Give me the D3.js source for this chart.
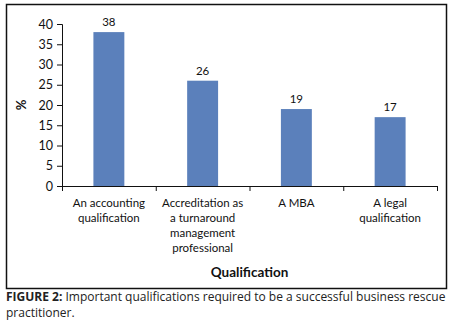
<!DOCTYPE html>
<html lang="en">
<head>
    <meta charset="UTF-8">
    <title>Qualifications</title>
    <script src="https://d3js.org/d3.v7.min.js"></script>
    <style>
        html, body {
            margin: 0;
            padding: 0;
            background: #fff;
        }
        svg {
            display: block;
            font-family: Lato, "Open Sans", sans-serif;
        }
    </style>
</head>
<body>
    <svg id="chart"></svg>

    <script>
        const categories = [
            ["An accounting", "qualification"],
            ["Accreditation as", "a turnaround", "management", "professional"],
            ["A MBA"],
            ["A legal", "qualification"]
        ];
        const values = [38, 26, 19, 17];
        const yTicks = [0, 5, 10, 15, 20, 25, 30, 35, 40];

        const width = 455, height = 329;
        const svg = d3.select("#chart")
            .attr("width", width)
            .attr("height", height);

        // outer frame
        svg.append("rect")
            .attr("x", 6.5).attr("y", 4.5)
            .attr("width", 440).attr("height", 284)
            .attr("fill", "none")
            .attr("stroke", "#111")
            .attr("stroke-width", 1.5);

        const plot = { left: 62, right: 437, top: 24, bottom: 186 };

        const x = d3.scaleBand()
            .domain(d3.range(values.length))
            .range([plot.left, plot.right])
            .paddingInner(0.67)
            .paddingOuter(0.335);

        const xTicks = d3.scaleBand()
            .domain(d3.range(values.length))
            .range([plot.left, plot.right]);

        const y = d3.scaleLinear()
            .domain([0, 40])
            .range([plot.bottom, plot.top]);

        // bars
        svg.selectAll("rect.bar")
            .data(values)
            .enter()
            .append("rect")
            .attr("class", "bar")
            .attr("x", (_, i) => x(i))
            .attr("y", d => y(d))
            .attr("width", x.bandwidth())
            .attr("height", d => y(0) - y(d))
            .attr("fill", "#5b80bb");

        // value labels
        svg.selectAll("text.val")
            .data(values)
            .enter()
            .append("text")
            .attr("class", "val")
            .attr("x", (_, i) => x(i) + x.bandwidth() / 2)
            .attr("y", d => y(d) - 6)
            .attr("text-anchor", "middle")
            .attr("font-size", "11.5px")
            .attr("fill", "#111")
            .text(d => d);

        // y axis
        const yAxis = svg.append("g")
            .attr("transform", `translate(${plot.left},0)`)
            .call(d3.axisLeft(y).tickValues(yTicks).tickSize(5).tickPadding(4));
        yAxis.selectAll("text").attr("font-size", "12.5px").attr("fill", "#111").attr("font-family", "Lato, sans-serif");
        yAxis.selectAll("line, path").attr("stroke", "#111");

        // x axis line and ticks
        const xAxis = svg.append("g");
        xAxis.append("line")
            .attr("x1", plot.left).attr("x2", plot.right)
            .attr("y1", plot.bottom + 0.5).attr("y2", plot.bottom + 0.5)
            .attr("stroke", "#111");
        const tickPos = d3.range(values.length).map(i => xTicks(i)).concat([plot.right]);
        xAxis.selectAll("line.tick")
            .data(tickPos)
            .enter()
            .append("line")
            .attr("class", "tick")
            .attr("x1", d => d + 0.5).attr("x2", d => d + 0.5)
            .attr("y1", plot.bottom).attr("y2", plot.bottom + 5)
            .attr("stroke", "#111");

        // category labels
        const labels = svg.selectAll("text.cat")
            .data(categories)
            .enter()
            .append("text")
            .attr("class", "cat")
            .attr("text-anchor", "middle")
            .attr("font-size", "11.5px")
            .attr("fill", "#111");
        labels.each(function (lines, i) {
            d3.select(this).selectAll("tspan")
                .data(lines)
                .enter()
                .append("tspan")
                .attr("x", xTicks(i) + xTicks.bandwidth() / 2)
                .attr("y", (_, j) => 207 + j * 15)
                .text(d => d);
        });

        // axis titles
        svg.append("text")
            .attr("x", (plot.left + plot.right) / 2)
            .attr("y", 277)
            .attr("text-anchor", "middle")
            .attr("font-size", "13.5px")
            .attr("font-weight", "bold")
            .attr("fill", "#111")
            .text("Qualification");

        svg.append("text")
            .attr("transform", `translate(26,${(plot.top + plot.bottom) / 2}) rotate(-90)`)
            .attr("text-anchor", "middle")
            .attr("font-size", "13px")
            .attr("font-weight", "bold")
            .attr("fill", "#111")
            .text("%");

        // caption
        const cap = svg.append("text")
            .attr("font-family", "'Open Sans', sans-serif")
            .attr("font-size", "12px")
            .attr("fill", "#222");
        const line1 = cap.append("tspan").attr("x", 6).attr("y", 301);
        line1.append("tspan").attr("font-weight", "bold").text("FIGURE 2: ");
        line1.append("tspan").text("Important qualifications required to be a successful business rescue");
        cap.append("tspan").attr("x", 6).attr("y", 317).text("practitioner.");
    </script>
</body>
</html>
